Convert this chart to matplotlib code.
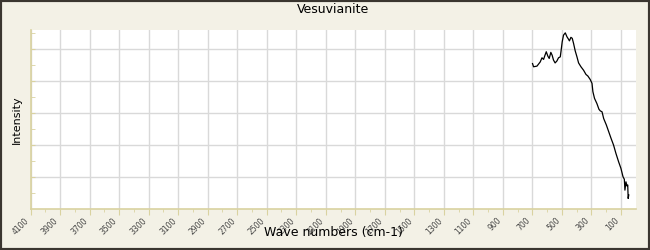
import numpy as np
import matplotlib.pyplot as plt
from matplotlib.patches import Rectangle

# spectrum (wave number, intensity in grid units)
wave = [699, 692, 669, 647, 635, 624, 617, 606, 595, 586, 575, 566, 557, 546,
        534, 523, 511, 505, 498, 489, 477, 466, 455, 449, 439, 430, 421, 410,
        398, 387, 371, 353, 337, 324, 308, 296, 290, 279, 263, 249, 240, 228,
        217, 199, 183, 167, 150, 134, 116, 100, 86, 77, 73, 66, 59, 54, 51, 47]
intensity = [4.55, 4.45, 4.47, 4.60, 4.73, 4.68, 4.78, 4.92, 4.78, 4.71, 4.90,
             4.81, 4.66, 4.57, 4.63, 4.73, 4.76, 4.97, 5.23, 5.44, 5.51, 5.39,
             5.31, 5.26, 5.37, 5.34, 5.18, 4.95, 4.76, 4.57, 4.45, 4.34, 4.21,
             4.16, 4.05, 3.93, 3.67, 3.46, 3.30, 3.12, 3.07, 3.04, 2.83, 2.63,
             2.42, 2.21, 2.00, 1.74, 1.48, 1.27, 1.01, 0.93, 0.59, 0.85, 0.72,
             0.75, 0.33, 0.44]
xticks = list(range(4100, 0, -200))

bg = '#f3f1e6'
axis_col = '#d9d2a0'

fig = plt.figure(figsize=(6.5, 2.5), dpi=100, facecolor=bg)
ax = fig.add_axes([0.047, 0.164, 0.931, 0.716])
ax.set_facecolor('white')

ax.plot(wave, intensity, color='black', lw=0.9)

ax.set_xlim(4100, 0)
ax.set_ylim(0, 5.6)
ax.set_xticks(xticks)
ax.set_xticklabels([str(t) for t in xticks], rotation=45, ha='right',
                   fontsize=5.5, color='#444444')
ax.set_xticks(np.arange(4000, 0, -200), minor=True)
ax.set_yticks([1, 2, 3, 4, 5])
ax.set_yticks(np.arange(0.5, 5.6, 1), minor=True)
ax.set_yticklabels([])

ax.grid(True, which='major', color='#d9d9d9', lw=1)
ax.tick_params(axis='x', which='major', length=4, color=axis_col, pad=1)
ax.tick_params(axis='x', which='minor', length=2, color=axis_col)
ax.tick_params(axis='y', which='both', direction='in', length=3, color=axis_col)

for s in ['top', 'right']:
    ax.spines[s].set_visible(False)
for s in ['left', 'bottom']:
    ax.spines[s].set_color(axis_col)
    ax.spines[s].set_linewidth(1.2)

ax.set_title('Vesuvianite', fontsize=9, pad=12)
ax.set_xlabel('Wave numbers (cm-1)', fontsize=9, labelpad=-7)
ax.set_ylabel('Intensity', fontsize=8, labelpad=3)

# dark frame around the whole figure
fig.patches.append(Rectangle((0, 0), 1, 1, transform=fig.transFigure,
                             fill=False, edgecolor='#3a3630', lw=3))

fig.savefig('out.png', dpi=100, facecolor=bg)
